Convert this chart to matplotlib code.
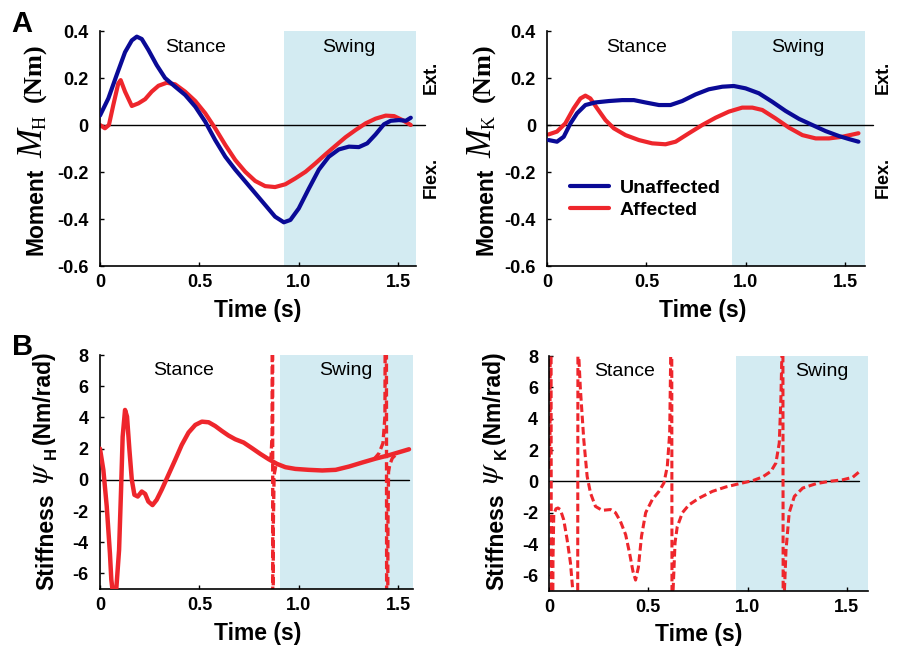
import matplotlib as mpl
import matplotlib.pyplot as plt

mpl.rcParams["font.family"] = "Liberation Sans"
mpl.rcParams["axes.unicode_minus"] = False
mpl.rcParams["mathtext.fontset"] = "stix"
mpl.rcParams["lines.solid_joinstyle"] = "round"
mpl.rcParams["lines.solid_capstyle"] = "round"

BLUE = "#0A0A96"
RED = "#EE262C"
SWING_COLOR = "#D3EBF2"

# --- hip moment (Nm) ---
HIP_T_UNAFF = [0.0, 0.042, 0.084, 0.126, 0.16, 0.185, 0.21, 0.243, 0.285, 0.327, 0.378, 0.428,
               0.479, 0.529, 0.579, 0.63, 0.68, 0.73, 0.78, 0.83, 0.88, 0.924, 0.957, 0.999,
               1.05, 1.1, 1.15, 1.2, 1.251, 1.301, 1.343, 1.385, 1.427, 1.461, 1.503, 1.537, 1.562]
HIP_M_UNAFF = [0.04, 0.113, 0.213, 0.31, 0.36, 0.376, 0.366, 0.32, 0.255, 0.20, 0.163, 0.128,
               0.078, 0.014, -0.064, -0.135, -0.19, -0.24, -0.29, -0.34, -0.39, -0.414, -0.404, -0.355,
               -0.27, -0.19, -0.135, -0.104, -0.092, -0.094, -0.078, -0.04, 0.003, 0.018, 0.021, 0.018, 0.031]
HIP_T_AFF = [0.0, 0.025, 0.045, 0.067, 0.092, 0.104, 0.126, 0.16, 0.193, 0.227, 0.26, 0.294, 0.336,
             0.378, 0.428, 0.479, 0.529, 0.579, 0.63, 0.68, 0.73, 0.78, 0.83, 0.88, 0.932, 0.982,
             1.033, 1.083, 1.133, 1.184, 1.234, 1.285, 1.335, 1.385, 1.436, 1.478, 1.52, 1.562]
HIP_M_AFF = [0.0, -0.014, 0.0, 0.085, 0.177, 0.191, 0.142, 0.081, 0.092, 0.11, 0.142, 0.167, 0.18,
             0.173, 0.142, 0.102, 0.05, -0.014, -0.085, -0.149, -0.199, -0.238, -0.26, -0.264, -0.252, -0.227,
             -0.199, -0.163, -0.125, -0.088, -0.052, -0.021, 0.007, 0.027, 0.04, 0.038, 0.021, 0.0]

# --- knee moment (Nm) ---
KNEE_T_UNAFF = [0.008, 0.05, 0.084, 0.118, 0.151, 0.193, 0.243, 0.311, 0.378, 0.437, 0.495, 0.563,
                0.621, 0.68, 0.747, 0.814, 0.882, 0.94, 0.999, 1.066, 1.133, 1.2, 1.268, 1.335,
                1.402, 1.469, 1.52, 1.567]
KNEE_M_UNAFF = [-0.064, -0.071, -0.05, 0.007, 0.05, 0.085, 0.096, 0.102, 0.106, 0.106, 0.096, 0.085,
                0.085, 0.102, 0.13, 0.152, 0.163, 0.166, 0.156, 0.135, 0.099, 0.06, 0.026, 0.0,
                -0.026, -0.047, -0.06, -0.071]
KNEE_T_AFF = [0.008, 0.05, 0.092, 0.134, 0.168, 0.193, 0.218, 0.252, 0.294, 0.336, 0.395, 0.462,
              0.529, 0.596, 0.647, 0.714, 0.781, 0.848, 0.915, 0.982, 1.033, 1.083, 1.15, 1.217,
              1.285, 1.352, 1.419, 1.486, 1.567]
KNEE_M_AFF = [-0.04, -0.028, 0.007, 0.071, 0.113, 0.125, 0.113, 0.071, 0.021, -0.014, -0.043, -0.064,
              -0.078, -0.082, -0.071, -0.035, 0.0, 0.031, 0.057, 0.074, 0.074, 0.064, 0.028, -0.011,
              -0.043, -0.057, -0.057, -0.05, -0.035]

# --- hip stiffness (Nm/rad), affected side ---
HIP_T_STIFF = [0.0, 0.017, 0.034, 0.05, 0.057, 0.07, 0.082, 0.096, 0.106, 0.114, 0.126, 0.136,
               0.148, 0.16, 0.173, 0.19, 0.21, 0.227, 0.243, 0.264, 0.285, 0.31, 0.344, 0.378,
               0.411, 0.445, 0.479, 0.512, 0.546, 0.579, 0.613, 0.646, 0.68, 0.722, 0.764, 0.806,
               0.848, 0.89, 0.932, 0.982, 1.049, 1.117, 1.184, 1.251, 1.318, 1.385, 1.453, 1.503, 1.553]
HIP_K_STIFF = [2.0, 0.64, -1.7, -4.7, -6.4, -7.8, -7.0, -4.5, -0.64, 2.77, 4.48, 4.05,
               1.92, 0.0, -0.96, -1.07, -0.75, -0.9, -1.39, -1.62, -1.28, -0.64, 0.32, 1.28,
               2.24, 3.03, 3.52, 3.73, 3.69, 3.45, 3.13, 2.84, 2.6, 2.39, 2.03, 1.66,
               1.32, 1.02, 0.81, 0.7, 0.64, 0.6, 0.64, 0.85, 1.11, 1.36, 1.58, 1.77, 1.96]
# raw hip stiffness near its two singularities (dashed)
HIP_T_POLE1 = [0.850, 0.860, 0.865, 0.867, 0.869, 0.871, 0.875, 0.885]
HIP_K_POLE1 = [1.25, 1.5, 3.0, 30.0, -30.0, -3.0, 0.3, 1.0]
HIP_T_POLE2 = [1.377, 1.402, 1.422, 1.432, 1.438, 1.442, 1.447, 1.450, 1.456, 1.469, 1.486]
HIP_K_POLE2 = [1.32, 1.7, 2.35, 4.05, 30.0, -30.0, -3.0, 0.5, 0.96, 1.39, 1.6]

# --- knee stiffness (Nm/rad), affected side ---
KNEE_T_STIFF = [0.0, 0.005, 0.009, 0.013, 0.020, 0.024, 0.035, 0.045, 0.057, 0.074, 0.091, 0.108,
                0.12, 0.132, 0.143, 0.147, 0.150, 0.158, 0.175, 0.192, 0.209, 0.234, 0.268, 0.31,
                0.335, 0.36, 0.386, 0.406, 0.423, 0.436, 0.45, 0.466, 0.487, 0.52, 0.554, 0.579,
                0.596, 0.608, 0.613, 0.617, 0.621, 0.625, 0.635, 0.646, 0.672, 0.705, 0.756, 0.823,
                0.89, 0.958, 1.025, 1.076, 1.118, 1.143, 1.16, 1.168, 1.173, 1.177, 1.181, 1.186,
                1.194, 1.21, 1.236, 1.278, 1.345, 1.412, 1.48, 1.53, 1.56]
KNEE_K_STIFF = [0.8, 3.0, 30.0, -30.0, -5.0, -2.1, -1.75, -1.7, -1.8, -2.45, -3.7, -5.2,
                -7.0, -10.0, -30.0, 30.0, 8.0, 5.9, 2.67, 0.32, -0.75, -1.6, -1.85, -1.8,
                -2.0, -2.56, -3.4, -4.6, -5.75, -6.3, -5.5, -3.5, -2.0, -1.17, -0.64, -0.1,
                0.96, 3.1, 8.0, 30.0, -30.0, -7.0, -3.9, -2.9, -2.0, -1.5, -1.07, -0.64,
                -0.36, -0.15, 0.04, 0.28, 0.64, 1.17, 2.45, 5.2, 8.0, 30.0, -30.0, -7.0,
                -4.4, -2.0, -0.96, -0.43, -0.15, 0.0, 0.1, 0.26, 0.58]

MOMENT_TICKS = [-0.6, -0.4, -0.2, 0, 0.2, 0.4]
MOMENT_TICK_LABELS = ["-0.6", "-0.4", "-0.2", "0", "0.2", "0.4"]
STIFF_TICKS = [-6, -4, -2, 0, 2, 4, 6, 8]
STIFF_TICK_LABELS = ["-6", "-4", "-2", "0", "2", "4", "6", "8"]
TIME_TICKS = [0, 0.5, 1.0, 1.5]
TIME_TICK_LABELS = ["0", "0.5", "1.0", "1.5"]

W, H = 899, 646


def style_axis(ax, xmax, swing_start, ylim, yticks, ylabels, zero_end, xlabel_pos):
    ax.axvspan(swing_start, xmax, color=SWING_COLOR, lw=0, zorder=0)
    ax.plot([0, zero_end], [0, 0], color="black", lw=1.0, clip_on=False, zorder=1)
    ax.set_xlim(0, xmax)
    ax.set_ylim(*ylim)
    ax.set_xticks(TIME_TICKS)
    ax.set_xticklabels(TIME_TICK_LABELS)
    ax.set_yticks(yticks)
    ax.set_yticklabels(ylabels)
    for side in ("top", "right"):
        ax.spines[side].set_visible(False)
    for side in ("left", "bottom"):
        ax.spines[side].set_linewidth(1.2)
    ax.tick_params(direction="in", length=3, width=1.0, labelsize=13)
    ax.tick_params(axis="y", pad=8)
    ax.tick_params(axis="x", pad=6)
    for lab in ax.get_xticklabels() + ax.get_yticklabels():
        lab.set_fontweight("bold")
    ax.set_xlabel("Time (s)", fontsize=16.5, fontweight="bold")
    ax.xaxis.set_label_coords(*xlabel_pos)


def label_piece(fig, x_px, y_px, text, ha, size, **kw):
    # vertical y-label fragment, anchored on its baseline at a pixel position
    fig.text(x_px / W, 1 - y_px / H, text, rotation=90, rotation_mode="anchor",
             ha=ha, va="baseline", fontsize=size, **kw)


def moment_ylabel(fig, x0, joint):
    label_piece(fig, x0, 168, "Moment", "right", 16.5, fontweight="bold")
    label_piece(fig, x0 - 1, 158, "M", "left", 25, family="Liberation Serif", style="italic")
    label_piece(fig, x0 + 3, 129, joint, "left", 13, family="Liberation Serif")
    label_piece(fig, x0 - 2, 43, "(Nm)", "right", 19, family="Liberation Serif", fontweight="bold")


def stiffness_ylabel(fig, x0, joint):
    label_piece(fig, x0, 493, "Stiffness", "right", 16.5, fontweight="bold")
    label_piece(fig, x0 - 5, 484, r"$\psi$", "left", 22)
    label_piece(fig, x0 + 3, 459, joint, "left", 12, fontweight="bold")
    label_piece(fig, x0 - 3, 444, "(Nm/rad)", "left", 16.5, fontweight="bold")


fig = plt.figure(figsize=(8.99, 6.46), dpi=100)
ax_hm = fig.add_axes([0.1112, 0.5882, 0.3515, 0.3638])
ax_km = fig.add_axes([0.6085, 0.5882, 0.3537, 0.3638])
ax_hs = fig.add_axes([0.1112, 0.0882, 0.3482, 0.3622])
ax_ks = fig.add_axes([0.6107, 0.0851, 0.3548, 0.3638])

style_axis(ax_hm, 1.588, 0.925, (-0.6, 0.4), MOMENT_TICKS, MOMENT_TICK_LABELS, 1.635, (0.5, -0.14))
style_axis(ax_km, 1.60, 0.93, (-0.6, 0.4), MOMENT_TICKS, MOMENT_TICK_LABELS, 1.64, (0.49, -0.14))
style_axis(ax_hs, 1.573, 0.905, (-7, 8), STIFF_TICKS, STIFF_TICK_LABELS, 1.553, (0.503, -0.14))
style_axis(ax_ks, 1.607, 0.94, (-7, 8), STIFF_TICKS, STIFF_TICK_LABELS, 1.562, (0.47, -0.135))

ax_hm.plot(HIP_T_UNAFF, HIP_M_UNAFF, color=BLUE, lw=3.0, zorder=3)
ax_hm.plot(HIP_T_AFF, HIP_M_AFF, color=RED, lw=3.0, zorder=2)
ax_km.plot(KNEE_T_UNAFF, KNEE_M_UNAFF, color=BLUE, lw=3.0, zorder=3, label="Unaffected")
ax_km.plot(KNEE_T_AFF, KNEE_M_AFF, color=RED, lw=3.0, zorder=2, label="Affected")

dash = (0, (2.5, 1.2))
ax_hs.plot(HIP_T_POLE1, HIP_K_POLE1, color=RED, lw=2.4, ls=dash, zorder=2)
ax_hs.plot(HIP_T_POLE2, HIP_K_POLE2, color=RED, lw=2.4, ls=dash, zorder=2)
ax_hs.plot(HIP_T_STIFF, HIP_K_STIFF, color=RED, lw=3.2, zorder=3)
ax_ks.plot(KNEE_T_STIFF, KNEE_K_STIFF, color=RED, lw=2.2, ls=dash, zorder=2)

ax_km.legend(loc="upper left", bbox_to_anchor=(0.072, 0.37), frameon=False,
             borderpad=0, borderaxespad=0, handlelength=2.0, handletextpad=0.55,
             labelspacing=0.25, prop={"size": 14, "weight": "bold"})

for ax, xs, xw, ytxt in [(ax_hm, 0.48, 1.25, 0.328), (ax_km, 0.45, 1.26, 0.328),
                         (ax_hs, 0.42, 1.236, 7.0), (ax_ks, 0.383, 1.374, 7.0)]:
    ax.text(xs, ytxt, "Stance", fontsize=14, ha="center", va="center", zorder=4)
    ax.text(xw, ytxt, "Swing", fontsize=14, ha="center", va="center", zorder=4)

moment_ylabel(fig, 43, "H")
moment_ylabel(fig, 492, "K")
stiffness_ylabel(fig, 53, "H")
stiffness_ylabel(fig, 503, "K")

for x in (431, 883):
    fig.text(x / W, 1 - 77 / H, "Ext.", rotation=90, ha="center", va="center", fontsize=13, fontweight="bold")
    fig.text(x / W, 1 - 177 / H, "Flex.", rotation=90, ha="center", va="center", fontsize=13, fontweight="bold")

fig.text(0.013, 0.985, "A", fontsize=21, fontweight="bold", va="top")
fig.text(0.013, 0.485, "B", fontsize=21, fontweight="bold", va="top")

fig.savefig("out.png", dpi=100)
